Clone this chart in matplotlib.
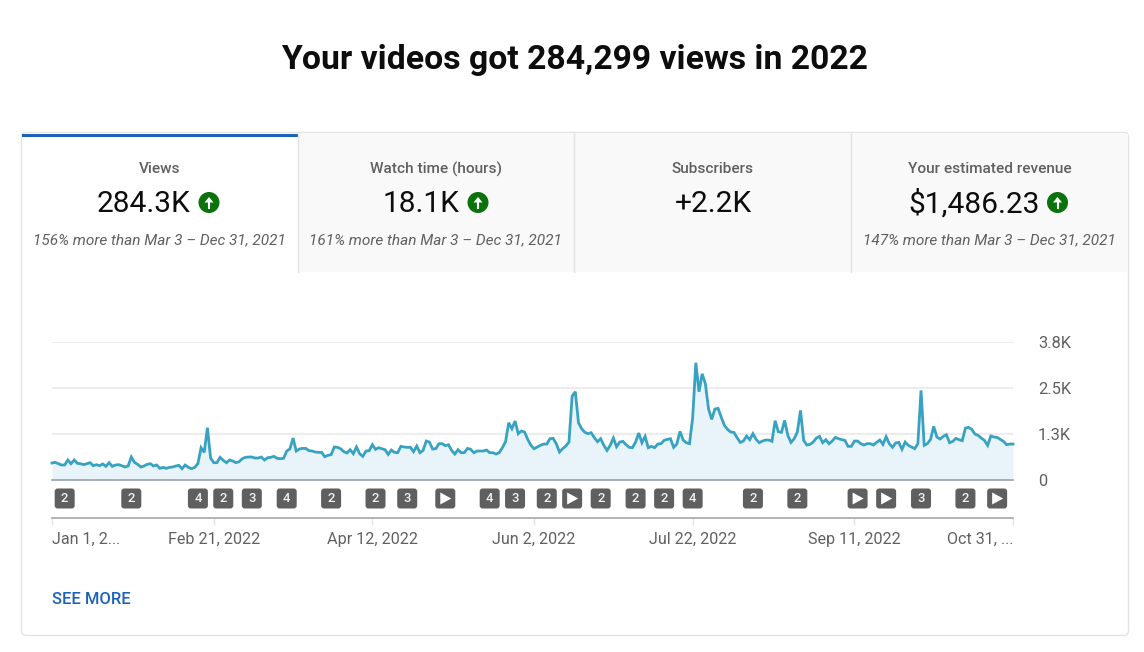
from matplotlib import pyplot as plt
from matplotlib.patches import Circle, FancyBboxPatch, Rectangle, Polygon

plt.rcParams['font.family'] = ['Roboto', 'DejaVu Sans']

W, H = 1144, 652

title = "Your videos got 284,299 views in 2022"

# daily views, Jan 1 to Oct 31 2022
views = [
  468, 486, 449, 413, 413, 550, 449, 550, 458, 449, 422, 449, 477, 394, 422, 394, 440, 376, 477, 376,
  413, 422, 394, 358, 385, 633, 486, 431, 358, 385, 431, 449, 385, 413, 321, 348, 321, 348, 358, 385,
  403, 312, 413, 348, 312, 348, 449, 889, 761, 1440, 605, 477, 477, 624, 541, 477, 550, 523, 477, 504,
  587, 624, 633, 633, 605, 605, 633, 550, 614, 624, 651, 596, 587, 596, 798, 853, 1155, 798, 853, 871,
  871, 807, 798, 770, 761, 761, 642, 679, 697, 908, 899, 862, 780, 743, 834, 724, 908, 724, 651, 798,
  807, 972, 844, 889, 862, 834, 706, 825, 761, 752, 926, 908, 899, 899, 780, 935, 752, 816, 1073, 1045,
  853, 862, 1000, 1000, 945, 972, 816, 715, 834, 752, 752, 871, 844, 752, 798, 798, 798, 825, 752, 752,
  715, 752, 889, 1055, 1577, 1412, 1623, 1275, 1348, 1320, 1119, 954, 862, 908, 954, 990, 990, 1137, 1146, 1000,
  770, 862, 935, 1045, 2311, 2430, 1577, 1412, 1311, 1275, 1302, 1165, 1055, 1137, 954, 816, 954, 1155, 917, 1045,
  1064, 972, 899, 889, 1045, 1293, 1027, 1201, 889, 926, 889, 990, 1000, 1091, 1119, 1137, 899, 990, 1339, 1100,
  1027, 1000, 1715, 3228, 2430, 2925, 2650, 1962, 1669, 1953, 1972, 1733, 1504, 1394, 1320, 1311, 1165, 1036, 1073, 1210,
  1110, 1275, 1119, 1027, 1073, 1100, 1100, 1064, 1632, 1330, 1311, 1641, 1229, 1036, 1137, 1320, 1917, 1091, 963, 981,
  1045, 1155, 1201, 1027, 1110, 1000, 1073, 1174, 1137, 1110, 1091, 926, 926, 1073, 1073, 1000, 963, 1000, 1000, 963,
  1036, 1100, 981, 1192, 1000, 899, 1018, 1036, 844, 1045, 954, 908, 862, 1000, 2467, 954, 1000, 1119, 1476, 1183,
  1128, 1201, 1247, 1027, 1064, 1146, 1110, 1082, 1431, 1449, 1394, 1265, 1229, 1155, 1091, 954, 1210, 1183, 1174, 1119,
  1064, 972, 990, 990,
]
days = list(range(len(views)))

y_ticks = [0, 1267, 2533, 3800]
y_labels = ['0', '1.3K', '2.5K', '3.8K']
date_days = [0, 51, 101, 152, 202, 253, 303]
date_labels = ['Jan 1, 2...', 'Feb 21, 2022', 'Apr 12, 2022', 'Jun 2, 2022', 'Jul 22, 2022', 'Sep 11, 2022', 'Oct 31, ...']

badge_days = [4, 25, 46, 54, 63, 74, 88, 102, 112, 124, 138, 146, 156, 164, 173, 184, 193, 202, 221, 235, 254, 263, 274, 288, 298]
badge_labels = ['2', '2', '4', '2', '3', '4', '2', '2', '3', '>', '4', '3', '2', '>', '2', '2', '2', '4', '2', '2', '>', '>', '3', '2', '>']

tab_names = ['Views', 'Watch time (hours)', 'Subscribers', 'Your estimated revenue']
tab_values = ['284.3K', '18.1K', '+2.2K', '$1,486.23']
tab_notes = ['156% more than Mar 3 – Dec 31, 2021', '161% more than Mar 3 – Dec 31, 2021', '', '147% more than Mar 3 – Dec 31, 2021']
tab_arrows = [True, True, False, True]

tab_edges = [22, 298, 574, 851, 1128]
value_x = [144, 421, 713, 974]
arrow_x = [209, 478, None, 1057.5]

GREY = '#606060'
BLUE = '#1c62b9'
LINE = '#38a2c2'

fig = plt.figure(figsize=(W / 100, H / 100), dpi=100, facecolor='white')

# page chrome, in pixel coordinates
bg = fig.add_axes([0, 0, 1, 1])
bg.set_xlim(0, W)
bg.set_ylim(H, 0)
bg.axis('off')

bg.text(574.5, 60, title, ha='center', va='center', fontsize=24.3, fontweight='bold', color='#0d0d0d')

bg.add_patch(FancyBboxPatch((21.5, 132.5), 1107, 503, boxstyle='round,pad=0,rounding_size=5',
                            fc='white', ec='#e3e3e3', lw=1))
bg.add_patch(Rectangle((298, 133.5), 830, 138.5, fc='#f9f9f9', ec='none'))
for x in tab_edges[1:4]:
  bg.plot([x, x], [133.5, 272], color='#e2e2e2', lw=1)
bg.add_patch(Rectangle((22, 134), 276, 3, fc=BLUE, ec='none'))

for i in range(4):
  mid = (tab_edges[i] + tab_edges[i + 1]) / 2
  bg.text(mid, 169, tab_names[i], ha='center', va='center', fontsize=11.1, fontweight='medium', color=GREY)
  bg.text(value_x[i], 203.5, tab_values[i], ha='center', va='center', fontsize=21.5, color='#0d0d0d')
  if tab_notes[i]:
    bg.text(mid - 0.5, 240, tab_notes[i], ha='center', va='center', fontsize=11.05, style='italic', color=GREY)
  if tab_arrows[i]:
    cx = arrow_x[i]
    bg.add_patch(Circle((cx, 202.5), 10.5, fc='#0b730b', ec='none'))
    bg.plot([cx, cx], [201, 208.5], color='white', lw=1.5, solid_capstyle='butt')
    bg.add_patch(Polygon([[cx - 4.5, 202.5], [cx, 197], [cx + 4.5, 202.5]], fc='white', ec='none'))

bg.text(52.5, 599, 'SEE MORE', ha='left', va='center', fontsize=11.9, fontweight='medium', color=BLUE)

# views chart
ax = fig.add_axes([52 / W, 1 - 480 / H, 961 / W, 138 / H])
ax.patch.set_alpha(0)
ax.set_xlim(days[0], days[-1])
ax.set_ylim(0, 3800)
ax.fill_between(days, views, 0, color='#e8f4fa', lw=0)
ax.plot(days, views, color=LINE, lw=2.0, solid_joinstyle='miter', clip_on=False)
ax.set_yticks(y_ticks)
ax.set_yticklabels(y_labels, fontsize=11.8, color=GREY)
ax.yaxis.tick_right()
ax.tick_params(axis='y', length=0, pad=18)
ax.set_xticks([])
ax.grid(axis='y', color='#e9e9e9', lw=1.2, zorder=0)
ax.set_axisbelow(True)
for s in ['top', 'left', 'right']:
  ax.spines[s].set_visible(False)
ax.spines['bottom'].set_color('#8e9aa2')
ax.spines['bottom'].set_linewidth(1.1)

# date axis under the badges
axd = fig.add_axes([52 / W, 1 - 517.5 / H, 961 / W, 0.5 / H])
axd.patch.set_alpha(0)
axd.set_xlim(days[0], days[-1])
axd.set_yticks([])
axd.set_xticks(date_days)
axd.set_xticklabels(date_labels, fontsize=11.6, color=GREY)
axd.tick_params(axis='x', length=5, width=1, color='#e2e2e2', pad=5.5)
tl = axd.get_xticklabels()
tl[0].set_ha('left')
tl[-1].set_ha('right')
for s in ['top', 'left', 'right']:
  axd.spines[s].set_visible(False)
axd.spines['bottom'].set_color('#a6a6a6')
axd.spines['bottom'].set_linewidth(1.2)

# video badges
for d, lab in zip(badge_days, badge_labels):
  cx = ax.transData.transform((d, 0))[0]
  bg.add_patch(FancyBboxPatch((cx - 10, 488.5), 20, 20, boxstyle='round,pad=0,rounding_size=3',
                              fc='#5f5f5f', ec='none'))
  if lab == '>':
    bg.add_patch(Polygon([[cx - 5, 492.5], [cx + 6, 498.5], [cx - 5, 504.5]], fc='white', ec='none'))
  else:
    bg.text(cx, 498.8, lab, ha='center', va='center', fontsize=9.4, fontweight='medium', color='#f2f2f2')

fig.savefig('out.png', dpi=100)
